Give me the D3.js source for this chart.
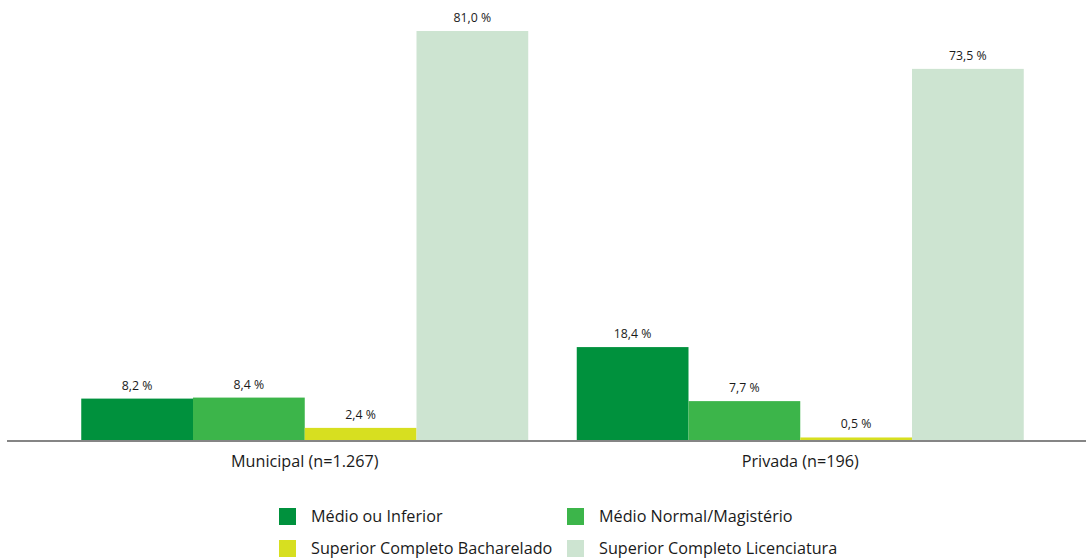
<!DOCTYPE html>
<html><head><meta charset="utf-8">
<script src="https://cdn.jsdelivr.net/npm/d3@7"></script>
<style>body{margin:0;background:#fff}svg{display:block}text{font-family:"Open Sans",Lato,sans-serif;fill:#1a1a1a}</style>
</head><body><svg id="c" width="1086" height="559"></svg>
<script>
const categories = ["Municipal (n=1.267)", "Privada (n=196)"];
const seriesNames = ["Médio ou Inferior", "Médio Normal/Magistério", "Superior Completo Bacharelado", "Superior Completo Licenciatura"];
const medioInferior = [8.2, 18.4];
const medioNormal = [8.4, 7.7];
const supBacharelado = [2.4, 0.5];
const supLicenciatura = [81.0, 73.5];
const colors = ["#00913d", "#3cb54a", "#d7df20", "#cde4d1"];

const seriesValues = [medioInferior, medioNormal, supBacharelado, supLicenciatura];
const svg = d3.select("#c");
const base = 440;
const y = d3.scaleLinear().domain([0, 81]).range([base, 31]);
const x0 = d3.scaleBand().domain(categories).range([57, 1048]);
const x1 = d3.scaleBand().domain(seriesNames).range([24.25, x0.bandwidth() - 24.25]);
const fmt = v => v.toFixed(1).replace(".", ",") + " %";

categories.forEach((c, ci) => {
  const g = svg.append("g").attr("transform", `translate(${x0(c)},0)`);
  seriesNames.forEach((s, si) => {
    const v = seriesValues[si][ci];
    g.append("rect").attr("x", x1(s)).attr("width", x1.bandwidth())
      .attr("y", y(v)).attr("height", base - y(v)).attr("fill", colors[si]);
    g.append("text").attr("x", x1(s) + x1.bandwidth() / 2).attr("y", y(v) - 9)
      .attr("text-anchor", "middle").attr("font-size", 12.3).text(fmt(v));
  });
});

svg.append("line").attr("x1", 7).attr("x2", 1086).attr("y1", base + 1).attr("y2", base + 1)
  .attr("stroke", "#858585").attr("stroke-width", 2);

const xAxis = d3.axisBottom(x0).tickSize(0).tickPadding(0);
const ax = svg.append("g").attr("transform", `translate(0,${base + 27})`).call(xAxis);
ax.select(".domain").remove();
ax.selectAll("text").attr("font-size", 16.2).attr("dy", 0).style("font-family", "'Open Sans', Lato, sans-serif").attr("fill", "#1a1a1a");

const legPos = [[279, 508], [567, 508], [279, 540], [567, 540]];
seriesNames.forEach((s, i) => {
  const [lx, ly] = legPos[i];
  svg.append("rect").attr("x", lx).attr("y", ly).attr("width", 17).attr("height", 17).attr("fill", colors[i]);
  svg.append("text").attr("x", lx + 32).attr("y", ly + 14).attr("font-size", 16.2).text(s);
});
</script></body></html>
